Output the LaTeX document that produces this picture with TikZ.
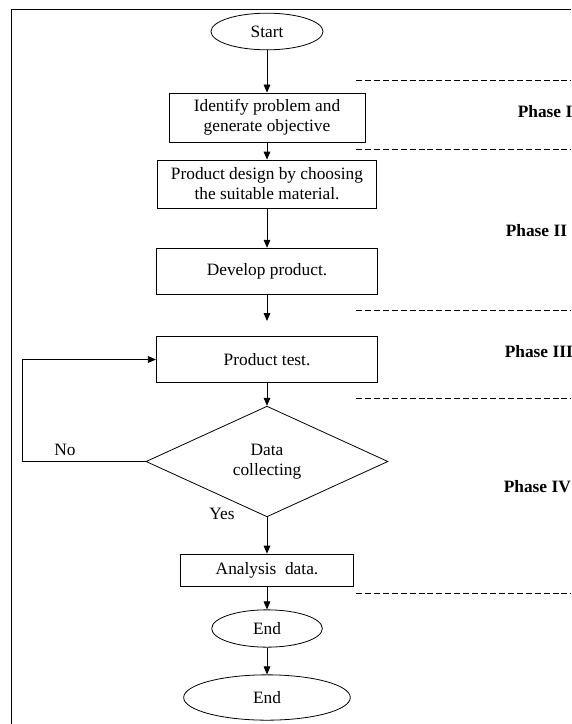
\documentclass[tikz,border=0pt]{standalone}
\usepackage{fontspec}
\setmainfont{Liberation Serif}
\usetikzlibrary{shapes.geometric,arrows.meta}

\begin{document}
\begin{tikzpicture}[x=.75pt,y=-.75pt,line width=.6pt,
    every node/.style={font=\fontsize{13}{15}\selectfont},
    box/.style={draw,rectangle,align=center,inner sep=1pt},
    oval/.style={draw,ellipse,inner sep=1pt},
    arr/.style={-{Triangle[length=6pt,width=5pt]}},
    phaseline/.style={dash pattern=on 4.5pt off 2.2pt},
    phase/.style={anchor=west,font=\fontsize{13}{15}\selectfont\bfseries}]
    \useasboundingbox (0,0) rectangle (571,724);
    \clip (0,0) rectangle (571,724);

    %% frame
    \draw (11,724) -- (11,9) -- (571,9);

    %% flow
    \node[oval,minimum width=84pt,minimum height=27.5pt] (start) at (267,31.5) {Start};
    \node[box,minimum width=147pt,minimum height=36.75pt] (ident) at (267,117.5)
        {Identify problem and\\generate objective};
    \node[box,minimum width=164pt,minimum height=36pt] (design) at (267,184)
        {Product design by choosing\\the suitable material.};
    \node[box,minimum width=166pt,minimum height=35pt] (develop) at (267,271.5) {Develop product.};
    \coordinate (gap) at (267,321);
    \node[box,minimum width=166pt,minimum height=35pt] (test) at (267,359.5) {Product test.};
    \node[draw,diamond,align=center,inner sep=0pt,minimum width=181.5pt,minimum height=83pt]
        (data) at (267,461.5) {Data\\collecting};
    \node[box,minimum width=130pt,minimum height=24pt] (analysis) at (267,570) {Analysis\ \ data.};
    \node[oval,minimum width=83pt,minimum height=28pt] (end1) at (267,628.5) {End};
    \node[oval,minimum width=125pt,minimum height=34pt] (end2) at (267,697.5) {End};

    \draw[arr] (start) -- (ident);
    \draw[arr] (ident) -- (design);
    \draw[arr] (design) -- (develop);
    \draw[arr] (develop) -- (gap);
    \draw[arr] (test) -- (data);
    \draw[arr] (data) -- (analysis);
    \draw[arr] (analysis) -- (end1);
    \draw[arr] (end1) -- (end2);

    %% loop back
    \coordinate (loop) at (22,461.5);
    \draw[arr] (data.west) -- (loop) |- (test.west);
    \node (no) at (65,450) {No};
    \node (yes) at (222,514) {Yes};

    %% phases
    \foreach \y in {80,149,310,398,593}
      \draw[phaseline] (356,\y) -- (571,\y);
    \node[phase] (p1) at (513,112) {Phase I};
    \node[phase] (p2) at (501,231) {Phase II};
    \node[phase] (p3) at (500,352) {Phase III};
    \node[phase] (p4) at (499,487) {Phase IV};
  \end{tikzpicture}
\end{document}
